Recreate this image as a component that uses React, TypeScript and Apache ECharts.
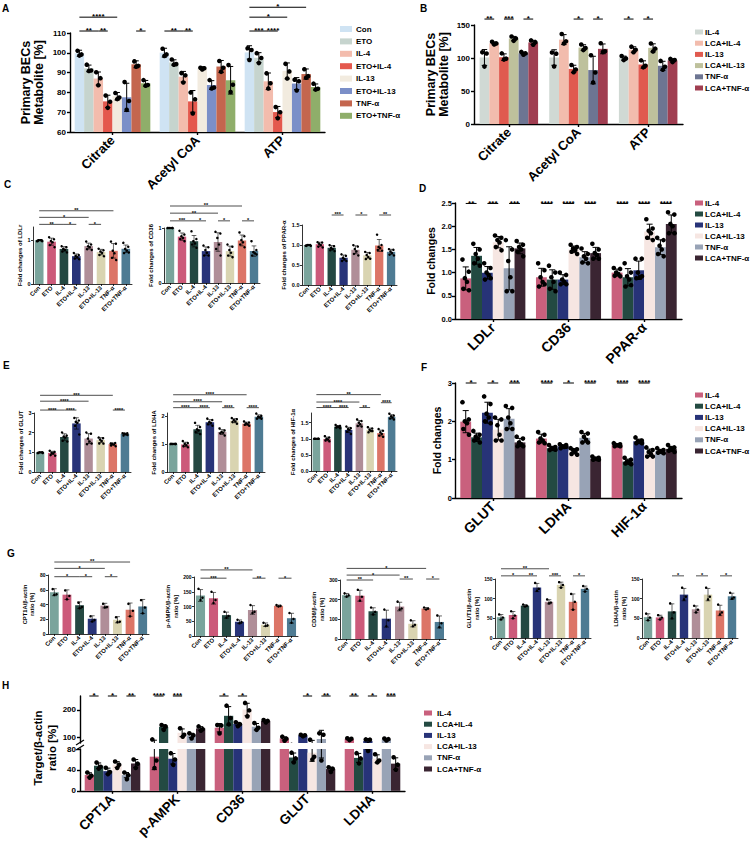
import React, { useEffect, useRef } from "react";
import * as echarts from "echarts";

// ---------- categories & group names ----------
const COND = ["Con", "ETO", "IL-4", "ETO+IL-4", "IL-13", "ETO+IL-13", "TNF-α", "ETO+TNF-α"];
const LCA_GROUPS = ["IL-4", "LCA+IL-4", "IL-13", "LCA+IL-13", "TNF-α", "LCA+TNF-α"];
const METABOLITES = ["Citrate", "Acetyl CoA", "ATP"];
const D_TARGETS = ["LDLr", "CD36", "PPAR-α"];
const F_TARGETS = ["GLUT", "LDHA", "HIF-1α"];
const H_TARGETS = ["CPT1A", "p-AMPK", "CD36", "GLUT", "LDHA"];

// ---------- A: metabolites (%), replicates per condition ----------
const A_CITRATE = [[101.5, 99.2, 98.6], [94, 91.6, 90.8], [90.2, 87.2, 83.6], [78.4, 75.8, 72.2], [80.2, 77.4, 76.6], [85.2, 76.2, 71.2], [96.2, 93.4, 93.0], [86.2, 84.2, 83.4]];
const A_ACETYLCOA = [[102.6, 99.2, 98.4], [96.6, 94.8, 94.0], [90.2, 88.6, 85.0], [80.0, 77.0, 69.4], [93.0, 92.2, 91.6], [86.2, 83.0, 82.0], [96.4, 92.4, 90.4], [93.8, 84.4, 80.2]];
const A_ATP = [[102.8, 101.4, 96.4], [99.8, 98.0, 94.8], [90.2, 84.6, 82.0], [72.6, 70.6, 67.0], [95.0, 90.6, 87.0], [86.4, 86.0, 81.0], [92.2, 88.2, 87.4], [84.4, 82.4, 81.4]];
const A_SIG = [[0, 0, 4, 118, "****"], [0, 0, 2, 111, "**"], [0, 2, 3, 111, "**"], [0, 6, 7, 111, "*"], [1, 0, 2, 111, "**"], [1, 2, 3, 111, "**"], [2, 0, 2, 111, "***"], [2, 2, 3, 111, "****"], [2, 0, 4, 118, "*"], [2, 0, 6, 123, "*"]];

// ---------- B: metabolites with LCA ----------
const B_CITRATE = [[108.6, 106.8, 87.0], [124.6, 122.0, 120.4], [107.0, 99.0, 97.6], [132.6, 129.6, 126.0], [109.2, 107.0, 105.0], [126.6, 124.0, 120.2]];
const B_ACETYLCOA = [[108.4, 106.6, 87.2], [136.4, 125.2, 122.0], [89.4, 82.6, 78.4], [120.4, 115.0, 112.0], [104.2, 78.0, 63.0], [122.4, 110.2, 109.0]];
const B_ATP = [[103.0, 99.4, 96.8], [117.2, 112.4, 108.8], [96.4, 88.2, 85.8], [122.0, 114.2, 110.0], [95.6, 86.8, 82.2], [98.6, 96.8, 93.8]];
const B_SIG = [[0, 0, 1, 159, "**"], [0, 2, 3, 159, "***"], [0, 4, 5, 159, "*"], [1, 2, 3, 159, "*"], [1, 4, 5, 159, "*"], [2, 0, 1, 159, "*"], [2, 2, 3, 159, "*"]];

// ---------- C: fold changes (ETO series) ----------
const C_LDLR = [[1, 1, 1, 1, 1, 1], [1.08, 1.02, 0.98, 0.95, 0.9, 0.86], [0.88, 0.84, 0.8, 0.78, 0.76, 0.74], [0.72, 0.66, 0.64, 0.61, 0.6, 0.58], [0.98, 0.9, 0.86, 0.84, 0.81, 0.8], [0.82, 0.77, 0.74, 0.71, 0.68, 0.65], [0.98, 0.92, 0.76, 0.7, 0.62, 0.56], [0.95, 0.85, 0.8, 0.76, 0.72, 0.74]];
const C_CD36 = [[1, 1, 1, 1, 1, 1], [0.95, 0.88, 0.85, 0.82, 0.8, 0.76], [0.94, 0.8, 0.76, 0.72, 0.7, 0.64], [0.68, 0.65, 0.6, 0.55, 0.5, 0.5], [0.93, 0.9, 0.82, 0.7, 0.62, 0.5], [0.7, 0.66, 0.6, 0.55, 0.5, 0.47], [0.92, 0.85, 0.78, 0.74, 0.7, 0.65], [0.76, 0.6, 0.56, 0.54, 0.5, 0.52]];
const C_PPARA = [[1, 1, 1, 1, 1, 1], [1.09, 1.06, 1.03, 1.0, 0.98, 0.96], [1.02, 0.97, 0.93, 0.9, 0.89, 0.87], [0.79, 0.73, 0.68, 0.65, 0.62, 0.62], [1.02, 0.96, 0.9, 0.84, 0.8, 0.76], [0.85, 0.8, 0.75, 0.7, 0.67, 0.68], [1.28, 1.0, 0.95, 0.92, 0.9, 0.88], [0.92, 0.88, 0.84, 0.8, 0.78, 0.76]];
const C_LDLR_SIG = [[0, 2, 1.36, "**"], [2, 3, 1.36, "*"], [4, 5, 1.36, "*"], [0, 4, 1.52, "*"], [0, 6, 1.67, "**"]];
const C_CD36_SIG = [[0, 2, 1.13, "***"], [2, 3, 1.13, "*"], [4, 5, 1.13, "*"], [6, 7, 1.13, "*"], [0, 4, 1.27, "**"], [0, 6, 1.4, "**"]];
const C_PPARA_SIG = [[2, 3, 1.75, "***"], [4, 5, 1.75, "*"], [6, 7, 1.75, "**"]];

// ---------- D: fold changes (LCA series) ----------
const D_LDLR = [[1.28, 1.02, 0.88, 0.8, 0.65, 0.62], [1.62, 1.5, 1.4, 1.3, 1.2, 1.15], [1.2, 1.1, 1.0, 0.95, 0.85, 0.88], [1.8, 1.75, 1.7, 1.65, 1.55, 1.48], [1.7, 1.5, 1.25, 0.9, 0.6, 0.6], [1.68, 1.6, 1.55, 1.5, 1.45, 1.35]];
const D_CD36 = [[1.2, 1.05, 0.9, 0.8, 0.7, 0.75], [1.15, 1.0, 0.9, 0.8, 0.65, 0.6], [1.0, 0.95, 0.85, 0.8, 0.75, 0.75], [1.6, 1.55, 1.52, 1.48, 1.45, 1.4], [1.52, 1.4, 1.35, 1.3, 1.22, 1.2], [1.62, 1.5, 1.42, 1.38, 1.3, 1.3]];
const D_PPARA = [[1.1, 1.08, 1.0, 0.97, 0.93, 0.92], [1.2, 1.0, 0.92, 0.85, 0.7, 0.73], [1.3, 1.3, 1.0, 0.9, 0.88, 0.92], [2.15, 1.95, 1.9, 1.85, 1.75, 1.7], [1.75, 1.7, 1.58, 1.5, 1.4, 1.35], [2.3, 2.25, 2.05, 2.0, 1.85, 1.85]];
const D_SIG = [[0, 0, 1, 2.49, "**"], [0, 2, 3, 2.49, "***"], [0, 4, 5, 2.49, "***"], [1, 0, 1, 2.49, "****"], [1, 2, 3, 2.49, "****"], [1, 4, 5, 2.49, "****"], [2, 0, 1, 2.49, "****"], [2, 2, 3, 2.49, "****"], [2, 4, 5, 2.49, "****"]];

// ---------- E: glycolysis fold changes (ETO series) ----------
const E_GLUT = [[1, 1, 1, 1, 1, 1], [1.1, 1.02, 0.98, 0.95, 0.9, 0.88], [2.05, 1.85, 1.8, 1.75, 1.62, 1.6], [2.8, 2.62, 2.55, 2.5, 2.4, 1.95], [2.05, 1.95, 1.7, 1.55, 1.45, 1.5], [1.8, 1.72, 1.65, 1.58, 1.5, 1.48], [1.5, 1.47, 1.43, 1.4, 1.37, 1.35], [2.0, 1.97, 1.95, 1.92, 1.9, 1.88]];
const E_LDHA = [[1, 1, 1, 1, 1, 1], [1.1, 1.03, 1.0, 0.95, 0.92, 0.88], [1.75, 1.6, 1.52, 1.48, 1.42, 1.35], [1.9, 1.85, 1.78, 1.75, 1.7, 1.65], [1.55, 1.48, 1.42, 1.4, 1.38, 1.3], [1.92, 1.88, 1.85, 1.8, 1.78, 1.72], [1.8, 1.76, 1.73, 1.7, 1.68, 1.65], [2.08, 2.0, 1.97, 1.95, 1.9, 1.9]];
const E_HIF = [[1, 1, 1, 1, 1, 1], [1.08, 1.04, 1.0, 0.98, 0.95, 0.92], [1.43, 1.4, 1.38, 1.37, 1.35, 1.33], [1.38, 1.33, 1.3, 1.27, 1.22, 1.15], [1.6, 1.55, 1.5, 1.45, 1.4, 1.38], [1.36, 1.32, 1.28, 1.25, 1.2, 1.24], [1.3, 1.25, 1.2, 1.15, 1.1, 1.06], [1.78, 1.72, 1.7, 1.66, 1.63, 1.6]];
const E_GLUT_SIG = [[0, 2, 3.15, "****"], [2, 3, 3.15, "****"], [6, 7, 3.15, "****"], [0, 4, 3.6, "****"], [0, 6, 3.9, "***"]];
const E_LDHA_SIG = [[0, 2, 2.29, "****"], [2, 3, 2.29, "****"], [4, 5, 2.29, "****"], [6, 7, 2.29, "****"], [0, 4, 2.5, "****"], [0, 6, 2.75, "****"]];
const E_HIF_SIG = [[0, 2, 1.97, "****"], [2, 3, 1.97, "****"], [4, 5, 1.97, "**"], [6, 7, 2.12, "****"], [0, 4, 2.14, "****"], [0, 6, 2.37, "**"]];

// ---------- F: glycolysis fold changes (LCA series) ----------
const F_GLUT = [[2.5, 2.05, 2.0, 1.95, 1.8, 1.65], [1.75, 1.65, 1.6, 1.55, 1.5, 1.45], [2.65, 2.45, 2.2, 2.1, 2.0, 1.95], [2.1, 2.05, 1.9, 1.65, 1.5, 1.5], [2.4, 2.35, 2.1, 1.95, 1.8, 1.8], [1.6, 1.55, 1.45, 1.4, 1.35, 1.35]];
const F_LDHA = [[1.72, 1.65, 1.55, 1.5, 1.45, 1.43], [1.38, 1.33, 1.3, 1.28, 1.25, 1.26], [1.4, 1.38, 1.35, 1.33, 1.3, 1.34], [1.3, 1.27, 1.25, 1.2, 1.15, 1.13], [1.72, 1.68, 1.6, 1.52, 1.45, 1.45], [1.08, 1.05, 1.03, 1.02, 1.0, 1.0]];
const F_HIF = [[1.43, 1.4, 1.38, 1.37, 1.35, 1.35], [1.05, 1.0, 0.95, 0.92, 0.9, 0.88], [1.58, 1.5, 1.48, 1.46, 1.43, 1.43], [1.32, 1.25, 1.2, 1.15, 1.08, 1.08], [1.3, 1.25, 1.22, 1.2, 1.18, 1.17], [1.38, 1.32, 1.3, 1.26, 1.23, 1.2]];
const F_SIG = [[0, 0, 1, 3.0, "*"], [0, 2, 3, 3.0, "*"], [0, 4, 5, 3.0, "***"], [1, 0, 1, 3.0, "****"], [1, 2, 3, 3.0, "*"], [1, 4, 5, 3.0, "****"], [2, 0, 1, 3.0, "****"], [2, 2, 3, 3.0, "****"]];

// ---------- G: western blot ratios (ETO series) ----------
const G_CPT1A = [[62, 55, 53], [60, 53, 47], [44, 38, 35], [25, 20, 17], [42, 37.5, 36], [24, 18, 16], [42, 33, 24], [47, 37, 28]];
const G_PAMPK = [[160, 130, 122], [150, 122, 112], [82, 68, 62], [55, 47, 43], [105, 82, 78], [45, 36, 34], [105, 102, 100], [78, 58, 45]];
const G_CD36 = [[232, 222, 215], [250, 215, 195], [160, 138, 125], [150, 95, 65], [190, 155, 150], [95, 72, 65], [160, 155, 150], [120, 80, 60]];
const G_GLUT1 = [[60, 52, 47], [68, 57, 50], [85, 82, 80], [140, 125, 120], [98, 90, 88], [142, 135, 128], [112, 92, 72], [132, 125, 118]];
const G_LDHA = [[62, 52, 45], [58, 52, 47], [88, 65, 50], [128, 105, 98], [82, 72, 65], [128, 105, 98], [85, 65, 60], [115, 103, 100]];
const G_CPT1A_SIG = [[0, 2, 77.7, "*"], [2, 3, 77.7, "*"], [4, 5, 77.7, "*"], [0, 4, 89, "*"], [0, 6, 97.6, "**"]];
const G_PAMPK_SIG = [[0, 2, 196, "***"], [4, 5, 196, "**"], [6, 7, 196, "*"], [0, 4, 224, "**"]];
const G_CD36_SIG = [[0, 2, 300, "**"], [4, 5, 305, "**"], [6, 7, 305, "*"], [0, 4, 325, "*"], [0, 6, 359, "*"]];
const G_GLUT1_SIG = [[0, 2, 158, "*"], [2, 3, 158, "**"], [4, 5, 158, "***"], [6, 7, 158, "*"], [0, 4, 176, "**"]];
const G_LDHA_SIG = [[2, 3, 158, "*"], [4, 5, 158, "*"], [6, 7, 158, "*"]];

// ---------- H: western blot ratios (LCA series) ----------
const H_CPT1A = [[35, 29, 27], [54, 46, 44], [44, 36, 33], [56, 50, 45], [35, 30, 25], [60, 52, 45]];
const H_PAMPK = [[93, 58, 45], [145, 140, 130], [72, 60, 52], [133, 110, 108], [115, 108, 100], [140, 130, 128]];
const H_CD36 = [[145, 143, 118], [215, 170, 150], [155, 148, 143], [225, 198, 180], [152, 135, 130], [163, 160, 157]];
const H_GLUT = [[103, 95, 92], [73, 62, 56], [110, 108, 106], [92, 65, 62], [115, 110, 58], [45, 42, 38]];
const H_LDHA = [[97, 95, 93], [72, 62, 55], [93, 92, 78], [70, 58, 56], [96, 94, 89], [64, 50, 42]];
const H_SIG = [[0, 0, 1, 250, "*"], [0, 2, 3, 250, "*"], [0, 4, 5, 250, "**"], [1, 0, 1, 250, "****"], [1, 2, 3, 250, "***"], [2, 0, 1, 250, "*"], [2, 2, 3, 250, "*"], [3, 2, 3, 250, "*"], [3, 4, 5, 250, "**"], [4, 0, 1, 250, "**"], [4, 2, 3, 250, "*"], [4, 4, 5, 250, "***"]];

// ---------- palettes ----------
const A_COLORS = ["#cfe3f3", "#c6d4ce", "#f3bcad", "#e4584d", "#f2ebdf", "#7b8fc8", "#c4664e", "#8fae6a"];
const B_COLORS = ["#d0d9d4", "#f2bcad", "#e05a4f", "#bec19c", "#6d7592", "#a03e51"];
const COND_COLORS = ["#7aa49c", "#cc5a7a", "#244842", "#283479", "#b08e98", "#d9d4b1", "#dc7567", "#4e7b93"];
const LCA_COLORS = ["#c9607d", "#234a42", "#273378", "#f6e6e2", "#98a3b6", "#3a2532"];

const FONT = "'Liberation Sans', Arial, Helvetica, sans-serif";
// horizontal spread of replicate dots, as a fraction of bar width
const JIT: Record<number, number[]> = { 3: [-0.22, 0.22, 0], 6: [-0.3, 0.28, -0.08, 0.12, -0.22, 0.3] };

const mean = (a: number[]) => a.reduce((s, v) => s + v, 0) / a.length;
const sd = (a: number[]) => {
  const m = mean(a);
  return Math.sqrt(a.reduce((s, v) => s + (v - m) * (v - m), 0) / (a.length - 1));
};
const single = (arr: number[][]) => arr.map((r) => [r]);
const gSig = (l: any[]) => l.map(([c, a, b, lv, t]) => [c, a, c, b, lv, t]);
const sSig = (l: any[]) => l.map(([a, b, lv, t]) => [a, 0, b, 0, lv, t]);
const range = (a: number, b: number, s: number) => {
  const out: number[] = [];
  for (let v = a; v <= b + 1e-9; v += s) out.push(Math.round(v * 100) / 100);
  return out;
};

const BIG = { lineW: 1.4, tickLen: 3, tickSize: 8, labMargin: 4, catSize: 13, catMargin: 6, nameSize: 12.5, nameLH: 13, sigSize: 8, dot: 2.3, errW: 1, sigW: 1 };
const SMALL = { lineW: 0.8, tickLen: 2, tickSize: 5.5, labMargin: 2.5, catSize: 6, catMargin: 3, nameSize: 6, nameLH: 7.5, sigSize: 5.5, dot: 1.25, errW: 0.6, sigW: 0.7 };

// centre x and width of the bar for group g inside category c
function slot(api: any, c: number, g: number, nG: number, gap: number) {
  const band = api.size([1, 0])[0];
  const groupW = band * (1 - gap);
  const bw = groupW / nG;
  const cx = api.coord([c, 0])[0];
  return { x: cx - groupW / 2 + (g + 0.5) * bw, bw };
}

function addChart(o: any, ch: any) {
  const gi = o.grid.length;
  const [left, top, width, height] = ch.rect;
  const nG = ch.reps[0].length;
  const gap = ch.gap;
  const line = { color: "#000", width: ch.lineW };
  o.grid.push({ left, top, width, height });
  o.xAxis.push({
    type: "category", gridIndex: gi, data: ch.cats, show: ch.showX !== false,
    axisLine: { show: true, onZero: false, lineStyle: line },
    axisTick: { show: true, alignWithLabel: true, interval: 0, length: ch.tickLen, lineStyle: line },
    axisLabel: { show: true, interval: 0, rotate: 45, margin: ch.catMargin, color: "#000", fontSize: ch.catSize, fontWeight: "bold", fontFamily: FONT },
    splitLine: { show: false },
  });
  o.yAxis.push({
    type: "value", gridIndex: gi, min: ch.yMin, max: ch.yMax,
    axisLine: { show: true, onZero: false, lineStyle: line },
    axisTick: { show: true, length: ch.tickLen, customValues: ch.yTicks, lineStyle: line },
    axisLabel: { customValues: ch.yTicks, formatter: (v: number) => v.toFixed(ch.yDigits), margin: ch.labMargin, fontSize: ch.tickSize, fontWeight: "bold", color: "#000", fontFamily: FONT },
    splitLine: { show: false },
    name: ch.yName || "", nameLocation: "middle", nameGap: ch.nameGap || 0,
    nameTextStyle: { fontSize: ch.nameSize, fontWeight: "bold", color: "#000", fontFamily: FONT, lineHeight: ch.nameLH },
  });
  const ax = { xAxisIndex: gi, yAxisIndex: gi };

  // bars (mean of replicates)
  for (let g = 0; g < nG; g++) {
    o.series.push({
      type: "bar", ...ax, silent: true, barGap: "0%", barCategoryGap: gap * 100 + "%",
      data: ch.cats.map((_: string, c: number) => ({
        value: mean(ch.reps[c][g]),
        itemStyle: { color: ch.byCat ? ch.colors[c] : ch.colors[g] },
      })),
    });
  }

  // error bars (mean ± SD) and replicate dots
  const err: number[][] = [];
  const dots: number[][] = [];
  ch.cats.forEach((_: string, c: number) => {
    for (let g = 0; g < nG; g++) {
      const r = ch.reps[c][g];
      const m = mean(r), s = sd(r);
      err.push([c, g, m - s, m + s]);
      r.forEach((v: number, k: number) => dots.push([c, g, v, k, r.length]));
    }
  });
  o.series.push({
    type: "custom", ...ax, silent: true, z: 3, clip: !!ch.clip, encode: { x: 0, y: [2, 3] }, data: err,
    renderItem: (p: any, api: any) => {
      const c = api.value(0), g = api.value(1);
      const { x, bw } = slot(api, c, g, nG, gap);
      const y1 = api.coord([c, api.value(2)])[1];
      const y2 = api.coord([c, api.value(3)])[1];
      const cap = bw * 0.28;
      const st = { stroke: "#000", lineWidth: ch.errW };
      return {
        type: "group", children: [
          { type: "line", shape: { x1: x, y1, x2: x, y2 }, style: st },
          { type: "line", shape: { x1: x - cap, y1: y2, x2: x + cap, y2 }, style: st },
          { type: "line", shape: { x1: x - cap, y1, x2: x + cap, y2: y1 }, style: st },
        ],
      };
    },
  });
  o.series.push({
    type: "custom", ...ax, silent: true, z: 4, clip: !!ch.clip, encode: { x: 0, y: 2 }, data: dots,
    renderItem: (p: any, api: any) => {
      const c = api.value(0), g = api.value(1), k = api.value(3), n = api.value(4);
      const { x, bw } = slot(api, c, g, nG, gap);
      const pat = JIT[n] || JIT[3];
      const y = api.coord([c, api.value(2)])[1];
      return { type: "circle", shape: { cx: x + pat[k % pat.length] * bw, cy: y, r: ch.dot }, style: { fill: "#000" } };
    },
  });

  // significance brackets
  if (ch.sigs && ch.sigs.length) {
    const sigs = ch.sigs;
    o.series.push({
      type: "custom", ...ax, silent: true, z: 5, clip: false, encode: { x: 0, y: 1 },
      data: sigs.map((s: any) => [s[0], s[4]]),
      renderItem: (p: any, api: any) => {
        const s = sigs[p.dataIndex];
        const a = slot(api, s[0], s[1], nG, gap);
        const b = slot(api, s[2], s[3], nG, gap);
        const y = api.coord([s[0], s[4]])[1];
        return {
          type: "group", children: [
            { type: "line", shape: { x1: a.x, y1: y, x2: b.x, y2: y }, style: { stroke: "#000", lineWidth: ch.sigW } },
            {
              type: "text", x: (a.x + b.x) / 2, y: y + ch.sigSize * 0.45,
              style: { text: s[5], fill: "#000", fontSize: ch.sigSize, fontWeight: "bold", fontFamily: FONT, align: "center", verticalAlign: "bottom" },
            },
          ],
        };
      },
    });
  }
}

function legend(els: any[], names: string[], colors: string[], sx: number, tx: number, y0: number, dy: number, sw: number, sh: number, fs: number) {
  names.forEach((n, i) => {
    const y = y0 + i * dy;
    els.push({ type: "rect", shape: { x: sx, y: y - sh / 2, width: sw, height: sh }, style: { fill: colors[i] } });
    els.push({ type: "text", x: tx, y, style: { text: n, fill: "#000", fontSize: fs, fontWeight: "bold", fontFamily: FONT, verticalAlign: "middle" } });
  });
}

function buildOption() {
  const o: any = { animation: false, backgroundColor: "#fff", grid: [], xAxis: [], yAxis: [], series: [] };

  // A
  addChart(o, { ...BIG, rect: [70, 33, 255, 99], cats: METABOLITES, reps: [A_CITRATE, A_ACETYLCOA, A_ATP], colors: A_COLORS, byCat: false, gap: 0.11,
    yMin: 60, yMax: 110, yTicks: range(60, 110, 10), yDigits: 0, yName: "Primary BECs\nMetabolite [%]", nameGap: 25, sigs: gSig(A_SIG) });
  // B
  addChart(o, { ...BIG, rect: [474, 25, 209, 99], cats: METABOLITES, reps: [B_CITRATE, B_ACETYLCOA, B_ATP], colors: B_COLORS, byCat: false, gap: 0.16,
    yMin: 0, yMax: 150, yTicks: range(0, 150, 50), yDigits: 0, yName: "Primary BECs\nMetabolite [%]", nameGap: 24, sigs: gSig(B_SIG) });

  // C
  const cS = { ...SMALL, cats: COND, colors: COND_COLORS, byCat: true, gap: 0.3 };
  addChart(o, { ...cS, rect: [33, 227, 99, 57], reps: single(C_LDLR), yMin: 0, yMax: 1.3, yTicks: [0, 1], yDigits: 0, yName: "Fold changes of LDLr", nameGap: 7, sigs: sSig(C_LDLR_SIG) });
  addChart(o, { ...cS, rect: [164, 228, 96, 55], reps: single(C_CD36), yMin: 0, yMax: 1, yTicks: [0, 1], yDigits: 0, yName: "Fold changes of CD36", nameGap: 7, sigs: sSig(C_CD36_SIG) });
  addChart(o, { ...cS, rect: [302, 225, 95, 60], reps: single(C_PPARA), yMin: 0, yMax: 1.5, yTicks: range(0, 1.5, 0.5), yDigits: 1, yName: "Fold changes of PPAR-α", nameGap: 13, sigs: sSig(C_PPARA_SIG) });

  // D
  addChart(o, { ...BIG, catSize: 14, tickSize: 7.5, labMargin: 3, nameSize: 10.5, rect: [455, 203, 227, 116], cats: D_TARGETS, reps: [D_LDLR, D_CD36, D_PPARA], colors: LCA_COLORS, byCat: false, gap: 0.14,
    yMin: 0, yMax: 2.5, yTicks: range(0, 2.5, 0.5), yDigits: 1, yName: "Fold changes", nameGap: 15, sigs: gSig(D_SIG) });

  // E
  addChart(o, { ...cS, rect: [34, 413, 97, 59], reps: single(E_GLUT), yMin: 0, yMax: 3, yTicks: [0, 1, 2, 3], yDigits: 0, yName: "Fold changes of GLUT", nameGap: 9, sigs: sSig(E_GLUT_SIG) });
  addChart(o, { ...cS, rect: [167, 413, 98, 59], reps: single(E_LDHA), yMin: 0, yMax: 2.1, yTicks: [0, 1, 2], yDigits: 0, yName: "Fold changes of LDHA", nameGap: 9, sigs: sSig(E_LDHA_SIG) });
  addChart(o, { ...cS, rect: [311, 413, 86, 58], reps: single(E_HIF), yMin: 0, yMax: 1.8, yTicks: range(0, 1.5, 0.5), yDigits: 1, yName: "Fold changes of HIF-1α", nameGap: 14, sigs: sSig(E_HIF_SIG) });

  // F
  addChart(o, { ...BIG, catSize: 14, tickSize: 7.5, labMargin: 3, nameSize: 10.5, rect: [455, 383, 227, 115], cats: F_TARGETS, reps: [F_GLUT, F_LDHA, F_HIF], colors: LCA_COLORS, byCat: false, gap: 0.14,
    yMin: 0, yMax: 3, yTicks: [0, 1, 2, 3], yDigits: 0, yName: "Fold changes", nameGap: 12, sigs: gSig(F_SIG) });

  // G
  const gS = { ...cS, tickSize: 5, nameSize: 5.8, nameLH: 7.5 };
  addChart(o, { ...gS, rect: [48, 575, 101, 59], reps: single(G_CPT1A), yMin: 0, yMax: 80, yTicks: range(0, 80, 20), yDigits: 0, yName: "CPT1A/β-actin\nratio [%]", nameGap: 11, sigs: sSig(G_CPT1A_SIG) });
  addChart(o, { ...gS, rect: [194, 577, 104, 59], reps: single(G_PAMPK), yMin: 0, yMax: 200, yTicks: range(0, 200, 50), yDigits: 0, yName: "p-AMPK/β-actin\nratio [%]", nameGap: 13, sigs: sSig(G_PAMPK_SIG) });
  addChart(o, { ...gS, rect: [340, 580, 106, 59], reps: single(G_CD36), yMin: 0, yMax: 300, yTicks: range(0, 300, 100), yDigits: 0, yName: "CD36/β-actin\nratio [%]", nameGap: 13, sigs: sSig(G_CD36_SIG) });
  addChart(o, { ...gS, rect: [495, 579, 96, 59], reps: single(G_GLUT1), yMin: 0, yMax: 150, yTicks: range(0, 150, 50), yDigits: 0, yName: "GLUT1/β-actin\nratio [%]", nameGap: 13, sigs: sSig(G_GLUT1_SIG) });
  addChart(o, { ...gS, rect: [642, 579, 96, 59], reps: single(G_LDHA), yMin: 0, yMax: 150, yTicks: range(0, 150, 50), yDigits: 0, yName: "LDHA/β-actin\nratio [%]", nameGap: 13, sigs: sSig(G_LDHA_SIG) });

  // H: split value axis, lower 0–80 and upper 80–250
  const hReps = [H_CPT1A, H_PAMPK, H_CD36, H_GLUT, H_LDHA];
  const hS = { ...BIG, catSize: 13.5, cats: H_TARGETS, reps: hReps, colors: LCA_COLORS, byCat: false, gap: 0.145, clip: true };
  addChart(o, { ...hS, rect: [80, 749, 325, 45], yMin: 0, yMax: 80, yTicks: [0, 40, 80], yDigits: 0 });
  addChart(o, { ...hS, rect: [80, 696, 325, 47], yMin: 80, yMax: 250, yTicks: [100, 200], yDigits: 0, showX: false, sigs: gSig(H_SIG) });

  // annotations: panel letters, legends, split-axis title and break marks
  const els: any[] = [];
  const letters: [string, number, number][] = [["A", 2, 3], ["B", 420, 3], ["C", 4, 179], ["D", 419, 183], ["E", 3, 360], ["F", 421, 362], ["G", 7, 548], ["H", 2, 680]];
  letters.forEach(([t, x, y]) => els.push({ type: "text", x, y, style: { text: t, fill: "#000", fontSize: 10, fontWeight: "bold", fontFamily: FONT, verticalAlign: "top" } }));
  legend(els, COND, A_COLORS, 340, 356, 29, 12.4, 12, 6, 8);
  legend(els, LCA_GROUPS, B_COLORS, 695, 705, 32, 11.2, 8, 5, 8);
  legend(els, LCA_GROUPS, LCA_COLORS, 695, 705, 203, 11, 8, 5, 8);
  legend(els, LCA_GROUPS, LCA_COLORS, 695, 705, 395, 11.2, 8, 5, 8);
  legend(els, LCA_GROUPS, LCA_COLORS, 424, 437, 713, 11.2, 8, 5, 8);
  els.push({ type: "text", x: 45, y: 748, rotation: Math.PI / 2,
    style: { text: "Target/β-actin\nratio [%]", fill: "#000", fontSize: 11.5, fontWeight: "bold", fontFamily: FONT, align: "center", verticalAlign: "middle", lineHeight: 14 } });
  els.push({ type: "line", shape: { x1: 76, y1: 745, x2: 84, y2: 740 }, style: { stroke: "#000", lineWidth: 1.2 } });
  els.push({ type: "line", shape: { x1: 76, y1: 750, x2: 84, y2: 745 }, style: { stroke: "#000", lineWidth: 1.2 } });
  o.graphic = { elements: els };
  return o;
}

export default function App() {
  const ref = useRef<HTMLDivElement>(null);
  useEffect(() => {
    const chart = echarts.init(ref.current as HTMLDivElement, null, { renderer: "svg" });
    chart.setOption(buildOption());
    return () => chart.dispose();
  }, []);
  return <div ref={ref} style={{ position: "absolute", left: 0, top: 0, width: 750, height: 841, background: "#fff" }} />;
}
